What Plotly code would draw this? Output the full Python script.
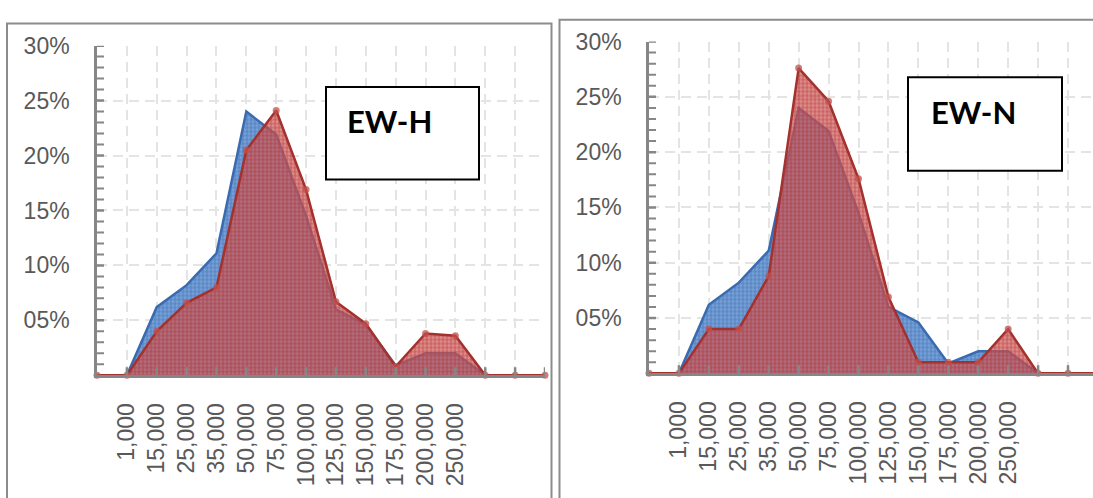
import plotly.graph_objects as go

# ---------------- data ----------------
categories = ["", "1,000", "15,000", "25,000", "35,000", "50,000", "75,000",
              "100,000", "125,000", "150,000", "175,000", "200,000", "250,000",
              "", "", ""]
blue_share = [0.0, 0.0, 0.062, 0.082, 0.111, 0.240, 0.219, 0.145, 0.060,
              0.046, 0.009, 0.020, 0.020, 0.0, 0.0, 0.0]
ew_h_share = [0.0, 0.0, 0.040, 0.066, 0.080, 0.205, 0.241, 0.169, 0.067,
              0.047, 0.008, 0.038, 0.036, 0.0, 0.0, 0.0]
ew_n_share = [0.0, 0.0, 0.040, 0.040, 0.088, 0.276, 0.246, 0.176, 0.069,
              0.010, 0.010, 0.010, 0.040, 0.0, 0.0, 0.0]
y_ticks = [0.05, 0.10, 0.15, 0.20, 0.25, 0.30]
y_ticktext = ["05%", "10%", "15%", "20%", "25%", "30%"]
panel_titles = ["EW-H", "EW-N"]

# ---------------- styling ----------------
W, H = 1093, 498
positions = list(range(len(categories)))
GRAY = "#868686"
LABEL = "#595959"
FONT = "Liberation Sans"

fig = go.Figure()

panels = [
    dict(xa="x", ya="y", red=ew_h_share,
         xdom=[97 / W, 545 / W], xr=[0, 15], ydom=[1 - 372 / H, 1 - 33.5 / H],
         box=(326, 76, 479, 171), txt=(389, 111), title=panel_titles[0]),
    dict(xa="x2", ya="y2", red=ew_n_share,
         xdom=[649 / W, 1.0], xr=[0, (1093 - 649) / 29.93], ydom=[1 - 370 / H, 1 - 29.3 / H],
         box=(908, 66, 1062, 162), txt=(973, 102), title=panel_titles[1]),
]

shapes = []
annotations = []
for i, p in enumerate(panels):
    fig.add_trace(go.Scatter(
        x=positions, y=blue_share, xaxis=p["xa"], yaxis=p["ya"],
        mode="lines", fill="tozeroy", showlegend=False,
        line=dict(color="#3A6BB0", width=2.5),
        fillcolor="rgb(100,146,205)",
        fillpattern=dict(shape="+", fillmode="replace", bgcolor="rgb(118,160,214)",
                         fgcolor="rgb(70,115,185)", size=4, solidity=0.3),
    ))
    fig.add_trace(go.Scatter(
        x=positions, y=p["red"], xaxis=p["xa"], yaxis=p["ya"],
        mode="lines+markers", fill="tozeroy", showlegend=False, cliponaxis=False,
        line=dict(color="#A3322F", width=2.5),
        marker=dict(size=7, color="rgba(192,80,77,0.75)"),
        fillcolor="rgba(192,80,77,0.7)",
        fillpattern=dict(shape="+", fillmode="replace", bgcolor="rgba(200,88,86,0.68)",
                         fgcolor="rgba(190,55,55,0.9)", size=4, solidity=0.3),
    ))

    # crossing category ticks on the x axis
    for pos in positions[1:]:
        shapes.append(dict(type="line", xref=p["xa"], yref=p["ya"], x0=pos, x1=pos,
                           ysizemode="pixel", yanchor=0, y0=-8, y1=8,
                           line=dict(color=GRAY, width=2.5), layer="above"))
    # crossing major ticks on the y axis
    for v in y_ticks:
        shapes.append(dict(type="line", xref=p["xa"], yref=p["ya"], y0=v, y1=v,
                           xsizemode="pixel", xanchor=0, x0=-7, x1=7,
                           line=dict(color=GRAY, width=2.5), layer="above"))
    # inside minor ticks on the y axis (every 1%)
    for k in range(1, 30):
        if k % 5:
            shapes.append(dict(type="line", xref=p["xa"], yref=p["ya"],
                               y0=k / 100, y1=k / 100,
                               xsizemode="pixel", xanchor=0, x0=0, x1=7,
                               line=dict(color=GRAY, width=2), layer="above"))
    # title box
    bx0, by0, bx1, by1 = p["box"]
    shapes.append(dict(type="rect", xref="paper", yref="paper",
                       x0=bx0 / W, x1=bx1 / W, y0=1 - by1 / H, y1=1 - by0 / H,
                       line=dict(color="black", width=2), fillcolor="white", layer="above"))
    annotations.append(dict(xref="paper", yref="paper", x=p["txt"][0] / W, y=1 - p["txt"][1] / H,
                            text="<b>%s</b>" % p["title"], showarrow=False,
                            xanchor="center", yanchor="middle",
                            font=dict(family="Lato", size=31, color="black")))

    axis_common = dict(showline=True, linecolor=GRAY, linewidth=2.5, zeroline=False,
                       showgrid=True, gridcolor="#E4E4E4", gridwidth=1.5, griddash="10px,6px",
                       ticks="")
    xkey = "xaxis" if i == 0 else "xaxis2"
    ykey = "yaxis" if i == 0 else "yaxis2"
    fig.update_layout(**{
        xkey: dict(axis_common, domain=p["xdom"], range=p["xr"], anchor=p["ya"],
                   tickmode="array", tickvals=positions, ticktext=categories,
                   tickangle=-90, ticklabelstandoff=16,
                   tickfont=dict(family=FONT, size=23, color=LABEL)),
        ykey: dict(axis_common, domain=p["ydom"], range=[0, 0.30], anchor=p["xa"],
                   tickmode="array", tickvals=y_ticks, ticktext=y_ticktext,
                   ticklabelstandoff=20,
                   tickfont=dict(family=FONT, size=23, color=LABEL)),
    })

# panel borders
shapes.append(dict(type="rect", xref="paper", yref="paper", x0=7 / W, x1=551.5 / W,
                   y0=-0.05, y1=1 - 10.7 / H, line=dict(color="#8C8C8C", width=2), layer="below"))
shapes.append(dict(type="rect", xref="paper", yref="paper", x0=559.5 / W, x1=1.05,
                   y0=-0.05, y1=1 - 7 / H, line=dict(color="#8C8C8C", width=2), layer="below"))

fig.update_layout(width=W, height=H, margin=dict(l=0, r=0, t=0, b=0),
                  paper_bgcolor="white", plot_bgcolor="white",
                  shapes=shapes, annotations=annotations, showlegend=False)

fig.write_html("out.html", config={"displayModeBar": False},
               post_script="document.body.style.margin='0';document.body.style.padding='0';"
                           "document.body.style.overflow='hidden';")
